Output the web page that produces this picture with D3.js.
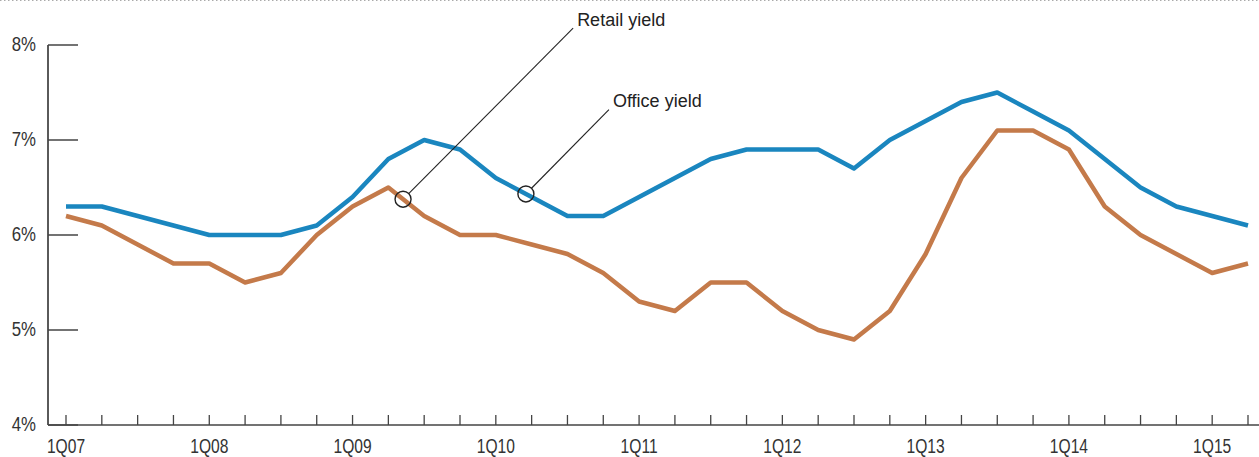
<!DOCTYPE html>
<html>
<head>
<meta charset="utf-8">
<script src="https://cdn.jsdelivr.net/npm/d3@7/dist/d3.min.js"></script>
<style>
  html, body { margin: 0; padding: 0; background: #fff; }
  svg { display: block; }
</style>
</head>
<body>
<svg id="chart" width="1259" height="457"></svg>
<script>
// ---- Data ----
const quarters = [
  "1Q07","2Q07","3Q07","4Q07","1Q08","2Q08","3Q08","4Q08",
  "1Q09","2Q09","3Q09","4Q09","1Q10","2Q10","3Q10","4Q10",
  "1Q11","2Q11","3Q11","4Q11","1Q12","2Q12","3Q12","4Q12",
  "1Q13","2Q13","3Q13","4Q13","1Q14","2Q14","3Q14","4Q14",
  "1Q15","2Q15"
];
const officeYield = [
  6.3, 6.3, 6.2, 6.1, 6.0, 6.0, 6.0, 6.1,
  6.4, 6.8, 7.0, 6.9, 6.6, 6.4, 6.2, 6.2,
  6.4, 6.6, 6.8, 6.9, 6.9, 6.9, 6.7, 7.0,
  7.2, 7.4, 7.5, 7.3, 7.1, 6.8, 6.5, 6.3,
  6.2, 6.1
];
const retailYield = [
  6.2, 6.1, 5.9, 5.7, 5.7, 5.5, 5.6, 6.0,
  6.3, 6.5, 6.2, 6.0, 6.0, 5.9, 5.8, 5.6,
  5.3, 5.2, 5.5, 5.5, 5.2, 5.0, 4.9, 5.2,
  5.8, 6.6, 7.1, 7.1, 6.9, 6.3, 6.0, 5.8,
  5.6, 5.7
];
const yTicks = [4, 5, 6, 7, 8];
const xTickLabels = ["1Q07","1Q08","1Q09","1Q10","1Q11","1Q12","1Q13","1Q14","1Q15"];
// annotations: label text, series, fractional quarter index of the marker, label position (quarter index, value)
const annotations = [
  { text: "Retail yield", series: "retail", at: 9.41, labelAt: 14.27, labelVal: 8.203 },
  { text: "Office yield", series: "office", at: 12.84, labelAt: 15.27, labelVal: 7.347 }
];

// ---- Layout ----
const svg = d3.select("#chart");
const W = 1259, H = 457;
const x = d3.scaleLinear().domain([0, quarters.length - 1]).range([66, 1248]);
const y = d3.scaleLinear().domain([4, 8]).range([425, 45]);
const axisLeft = 48;
const narrowFont = "'Liberation Sans', Arial, Helvetica, sans-serif";
const squeeze = 0.8;

const colors = { office: "#1a86bf", retail: "#c47a4a" };
const seriesData = { office: officeYield, retail: retailYield };

// top dotted rule
svg.append("line")
  .attr("x1", 0).attr("x2", W).attr("y1", 0.5).attr("y2", 0.5)
  .attr("stroke", "#aaa").attr("stroke-width", 1).attr("stroke-dasharray", "1.5,2.5");

// y axis
svg.append("line")
  .attr("x1", axisLeft).attr("x2", axisLeft)
  .attr("y1", y(8)).attr("y2", y(4))
  .attr("stroke", "#5a5a5a").attr("stroke-width", 2);

const yg = svg.append("g");
yg.selectAll("line.yt").data(yTicks).join("line")
  .attr("class", "yt")
  .attr("x1", axisLeft).attr("x2", 78)
  .attr("y1", d => y(d)).attr("y2", d => y(d))
  .attr("stroke", "#444").attr("stroke-width", 1.5);
yg.selectAll("text").data(yTicks).join("text")
  .attr("transform", d => `translate(36,${y(d) + 6}) scale(${squeeze},1)`)
  .attr("text-anchor", "end")
  .attr("font-family", narrowFont)
  .attr("font-size", 21)
  .attr("fill", "#333")
  .text(d => d + "%");

// x axis
svg.append("line")
  .attr("x1", axisLeft).attr("x2", W)
  .attr("y1", y(4)).attr("y2", y(4))
  .attr("stroke", "#444").attr("stroke-width", 1.5);

const xg = svg.append("g");
xg.selectAll("line").data(d3.range(quarters.length)).join("line")
  .attr("x1", d => x(d)).attr("x2", d => x(d))
  .attr("y1", y(4)).attr("y2", y(4) - 10)
  .attr("stroke", "#444").attr("stroke-width", 1.3);
xg.selectAll("text").data(xTickLabels).join("text")
  .attr("transform", d => `translate(${x(quarters.indexOf(d))},452.5) scale(${squeeze},1)`)
  .attr("text-anchor", "middle")
  .attr("font-family", narrowFont)
  .attr("font-size", 19.5)
  .attr("fill", "#333")
  .text(d => d);

// lines
const line = d3.line().x((d, i) => x(i)).y(d => y(d));
["office", "retail"].forEach(k => {
  svg.append("path")
    .datum(seriesData[k])
    .attr("d", line)
    .attr("fill", "none")
    .attr("stroke", colors[k])
    .attr("stroke-width", 4.5)
    .attr("stroke-linejoin", "round")
    .attr("stroke-linecap", "butt");
});

// annotations
function valueAt(arr, t) {
  const i = Math.floor(t), f = t - i;
  return arr[i] + (arr[i + 1] - arr[i]) * f;
}
const r = 8;
annotations.forEach(a => {
  const cx = x(a.at), cy = y(valueAt(seriesData[a.series], a.at));
  const lx = x(a.labelAt), ly = y(a.labelVal);
  const ex = lx - 4, ey = ly + 2.5;
  const ang = Math.atan2(ey - cy, ex - cx);
  svg.append("line")
    .attr("x1", cx + r * Math.cos(ang)).attr("y1", cy + r * Math.sin(ang))
    .attr("x2", ex).attr("y2", ey)
    .attr("stroke", "#222").attr("stroke-width", 1.1);
  svg.append("circle")
    .attr("cx", cx).attr("cy", cy).attr("r", r)
    .attr("fill", "none").attr("stroke", "#222").attr("stroke-width", 1.4);
  svg.append("text")
    .attr("x", lx).attr("y", ly)
    .attr("font-family", "'Liberation Sans', Arial, Helvetica, sans-serif")
    .attr("font-size", 18)
    .attr("fill", "#222")
    .text(a.text);
});
</script>
</body>
</html>
